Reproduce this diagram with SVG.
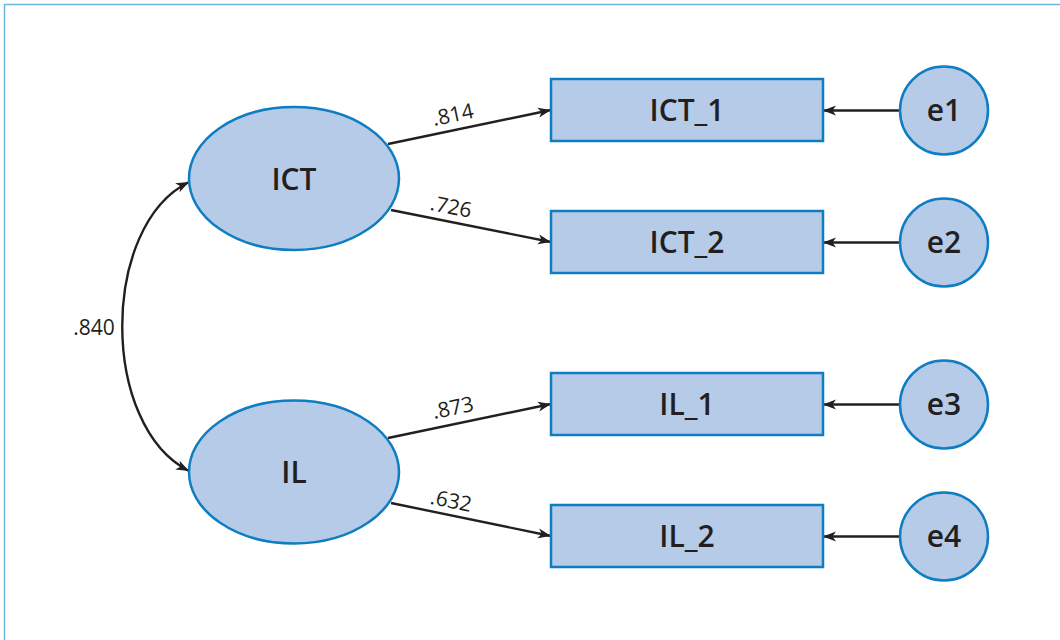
<svg xmlns="http://www.w3.org/2000/svg" width="1060" height="640" viewBox="0 0 1060 640">
<defs>
<style>
.node{fill:#b6cbe8;stroke:#0e7dc2;stroke-width:2.5}
.lbl{font-family:"Open Sans","Liberation Sans",sans-serif;font-weight:600;font-size:30px;fill:#231f20;text-anchor:middle}
.w{font-family:"Open Sans","Liberation Sans",sans-serif;font-weight:400;font-size:21px;fill:#231f20;text-anchor:middle}
.c{fill:none;stroke:#231f20;stroke-width:2.4}
</style>
<marker id="ah" markerUnits="userSpaceOnUse" markerWidth="14" markerHeight="12" viewBox="0 0 14 12" refX="13" refY="6" orient="auto-start-reverse">
<path d="M0,1 L13,6 L0,11 L3.5,6 z" fill="#231f20"/>
</marker>
</defs>
<rect x="4.5" y="4.5" width="1100" height="700" fill="#fff" stroke="#6cb4e2" stroke-width="1.5"/>
<g id="connectors">
<path class="c" d="M189,182 C100,226 100,426 189,471" marker-start="url(#ah)" marker-end="url(#ah)"/>
<line class="c" x1="388" y1="144" x2="551" y2="110" marker-end="url(#ah)"/>
<line class="c" x1="391" y1="210" x2="551" y2="242" marker-end="url(#ah)"/>
<line class="c" x1="388" y1="438" x2="551" y2="404" marker-end="url(#ah)"/>
<line class="c" x1="391" y1="503" x2="551" y2="536" marker-end="url(#ah)"/>
<line class="c" x1="900" y1="110.5" x2="823" y2="110.5" marker-end="url(#ah)"/>
<line class="c" x1="900" y1="242.5" x2="823" y2="242.5" marker-end="url(#ah)"/>
<line class="c" x1="900" y1="404.5" x2="823" y2="404.5" marker-end="url(#ah)"/>
<line class="c" x1="900" y1="536.5" x2="823" y2="536.5" marker-end="url(#ah)"/>
<text class="w" x="94" y="335">.840</text>
<text class="w" transform="translate(453,115) rotate(-11.8)" y="7">.814</text>
<text class="w" transform="translate(451,207) rotate(11.3)" y="7">.726</text>
<text class="w" transform="translate(453,408) rotate(-11.8)" y="7">.873</text>
<text class="w" transform="translate(451,501) rotate(11.6)" y="7">.632</text>
</g>
<g id="ICT"><ellipse class="node" cx="294" cy="178.5" rx="105" ry="71.5"/><text class="lbl" x="294" y="190">ICT</text></g>
<g id="IL"><ellipse class="node" cx="294" cy="472" rx="105" ry="71.5"/><text class="lbl" x="294" y="483">IL</text></g>
<g id="ICT_1"><rect class="node" x="551" y="79" width="272" height="62"/><text class="lbl" x="687" y="121">ICT_1</text></g>
<g id="ICT_2"><rect class="node" x="551" y="211" width="272" height="62"/><text class="lbl" x="687" y="253">ICT_2</text></g>
<g id="IL_1"><rect class="node" x="551" y="373" width="272" height="62"/><text class="lbl" x="687" y="415">IL_1</text></g>
<g id="IL_2"><rect class="node" x="551" y="505" width="272" height="62"/><text class="lbl" x="687" y="547">IL_2</text></g>
<g id="e1"><circle class="node" cx="944" cy="110.5" r="44"/><text class="lbl" x="944" y="121">e1</text></g>
<g id="e2"><circle class="node" cx="944" cy="242.5" r="44"/><text class="lbl" x="944" y="253">e2</text></g>
<g id="e3"><circle class="node" cx="944" cy="404.5" r="44"/><text class="lbl" x="944" y="415">e3</text></g>
<g id="e4"><circle class="node" cx="944" cy="536.5" r="44"/><text class="lbl" x="944" y="547">e4</text></g>
</svg>
